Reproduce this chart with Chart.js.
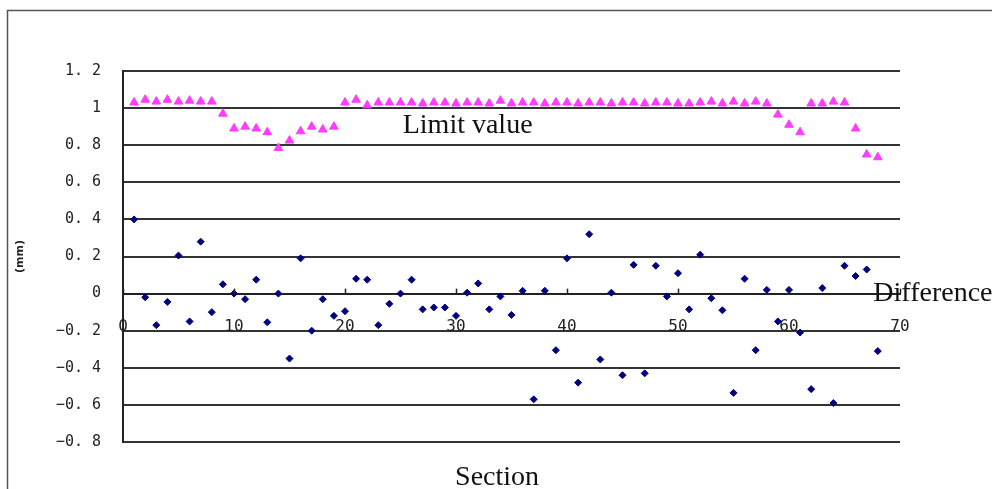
<!DOCTYPE html>
<html>
<head>
<meta charset="utf-8">
<script src="https://cdn.jsdelivr.net/npm/chart.js@4"></script>
<style>
  html, body { margin: 0; padding: 0; background: #fff; overflow: hidden; }
  #wrap { position: relative; width: 992px; height: 489px; }
</style>
</head>
<body>
<div id="wrap"><canvas id="myChart" width="992" height="489"></canvas></div>
<script>
// 구간 번호 (X축)
const sections = [
  1, 2, 3, 4, 5, 6, 7, 8, 9, 10, 11, 12, 13, 14, 15, 16, 17,
  18, 19, 20, 21, 22, 23, 24, 25, 26, 27, 28, 29, 30, 31, 32, 33, 34,
  35, 36, 37, 38, 39, 40, 41, 42, 43, 44, 45, 46, 47, 48, 49, 50, 51,
  52, 53, 54, 55, 56, 57, 58, 59, 60, 61, 62, 63, 64, 65, 66, 67, 68
];

// Limit value (magenta triangles)
const limitValues = [
  1.03, 1.045, 1.035, 1.045, 1.035, 1.04, 1.035, 1.035,
  0.97, 0.89, 0.9, 0.89, 0.87, 0.785, 0.825, 0.875, 0.9, 0.885, 0.9,
  1.03, 1.045, 1.015, 1.03, 1.03, 1.03,
  1.03, 1.025, 1.03, 1.03, 1.025, 1.03, 1.03, 1.025, 1.04, 1.025,
  1.03, 1.03, 1.025, 1.03, 1.03, 1.025, 1.03, 1.03, 1.025, 1.03,
  1.03, 1.025, 1.03, 1.03, 1.025,
  1.025, 1.03, 1.035, 1.025, 1.035, 1.025, 1.035, 1.025,
  0.965, 0.91, 0.87, 1.025, 1.025, 1.035, 1.03, 0.89, 0.75, 0.735
];

// Difference (navy diamonds)
const differenceValues = [
  0.4, -0.02, -0.17, -0.045, 0.205, -0.15, 0.28, -0.1, 0.05, 0.0,
  -0.03, 0.075, -0.155, 0.0, -0.35, 0.19, -0.2, -0.03, -0.12, -0.095,
  0.08, 0.075, -0.17, -0.055, 0.0, 0.075, -0.085, -0.075, -0.075, -0.12,
  0.005, 0.055, -0.085, -0.015, -0.115, 0.015, -0.57, 0.015, -0.305, 0.19,
  -0.48, 0.32, -0.355, 0.005, -0.44, 0.155, -0.43, 0.15, -0.015, 0.11,
  -0.085, 0.21, -0.025, -0.09, -0.535, 0.08, -0.305, 0.02, -0.15, 0.02,
  -0.21, -0.515, 0.03, -0.59, 0.15, 0.095, 0.13, -0.31
];

// 축 눈금
const xTicks = [0, 10, 20, 30, 40, 50, 60, 70];
const yTicks = [-0.8, -0.6, -0.4, -0.2, 0, 0.2, 0.4, 0.6, 0.8, 1, 1.2];

const toPoints = (vals) => sections.map((s, i) => ({ x: s, y: vals[i] }));

// 테두리, 위쪽 눈금, 텍스트 라벨을 그리는 플러그인
const decorations = {
  id: "decorations",
  beforeDraw(chart) {
    const c = chart.ctx;
    c.save();
    c.strokeStyle = "#555";
    c.lineWidth = 1.5;
    c.strokeRect(7.5, 10.5, 1000, 500);
    c.restore();
  },
  afterDraw(chart) {
    const c = chart.ctx;
    const xs = chart.scales.x;
    const ys = chart.scales.y;
    const y0 = ys.getPixelForValue(0);
    c.save();
    // X축 위쪽 방향 짧은 눈금
    c.strokeStyle = "#222";
    c.lineWidth = 1.5;
    xTicks.forEach((t) => {
      const px = Math.round(xs.getPixelForValue(t)) + 0.5;
      c.beginPath();
      c.moveTo(px, y0);
      c.lineTo(px, y0 - 5);
      c.stroke();
    });
    c.fillStyle = "#111";
    c.font = "28px 'Liberation Serif'";
    c.textBaseline = "middle";
    c.textAlign = "left";
    c.fillText("Limit value", xs.getPixelForValue(25.2), ys.getPixelForValue(0.905));
    c.fillText("Difference", xs.getPixelForValue(67.6), y0);
    c.textAlign = "center";
    c.fillText("Section", xs.getPixelForValue(33.7), chart.chartArea.bottom + 36);
    c.restore();
  },
};

const ctx = document.getElementById("myChart").getContext("2d");

const myChart = new Chart(ctx, {
  type: "scatter",
  data: {
    datasets: [
      {
        label: "Limit value",
        data: toPoints(limitValues),
        pointStyle: "triangle",
        radius: 5,
        backgroundColor: "#ff3cff",
        borderColor: "#ff3cff",
        borderWidth: 1,
      },
      {
        label: "Difference",
        data: toPoints(differenceValues),
        pointStyle: "rectRot",
        radius: 3.5,
        backgroundColor: "#000080",
        borderColor: "#000080",
        borderWidth: 1,
      },
    ],
  },
  options: {
    responsive: false,
    animation: false,
    layout: { padding: { left: 0, top: 71, right: 92, bottom: 47 } },
    plugins: {
      legend: { display: false },
      tooltip: { enabled: false },
    },
    scales: {
      x: {
        type: "linear",
        position: { y: 0 },
        min: 0,
        max: 70,
        afterBuildTicks: (scale) => {
          scale.ticks = xTicks.map((v) => ({ value: v }));
        },
        grid: { display: false, drawTicks: false },
        border: { display: true, color: "#222", width: 2 },
        ticks: {
          padding: 24,
          color: "#222",
          font: { family: "'DejaVu Sans Mono'", size: 16 },
          maxRotation: 0,
        },
      },
      y: {
        min: -0.8,
        max: 1.2,
        afterBuildTicks: (scale) => {
          scale.ticks = yTicks.map((v) => ({ value: v }));
        },
        afterFit: (scale) => {
          scale.width = 123;
        },
        grid: { color: "#333", lineWidth: 2, drawTicks: false },
        border: { display: true, color: "#222", width: 2 },
        ticks: {
          padding: 22,
          color: "#222",
          font: { family: "'DejaVu Sans Mono'", size: 15 },
          callback: (v) => {
            const s = (Math.round(v * 10) / 10).toString();
            return s.replace("-", "\u2212").replace(".", ". ");
          },
        },
        title: {
          display: true,
          text: "(mm)",
          color: "#222",
          font: { family: "'DejaVu Sans'", size: 11, weight: "bold" },
          padding: { top: 14, bottom: 0 },
        },
      },
    },
  },
  plugins: [decorations],
});
</script>
</body>
</html>
